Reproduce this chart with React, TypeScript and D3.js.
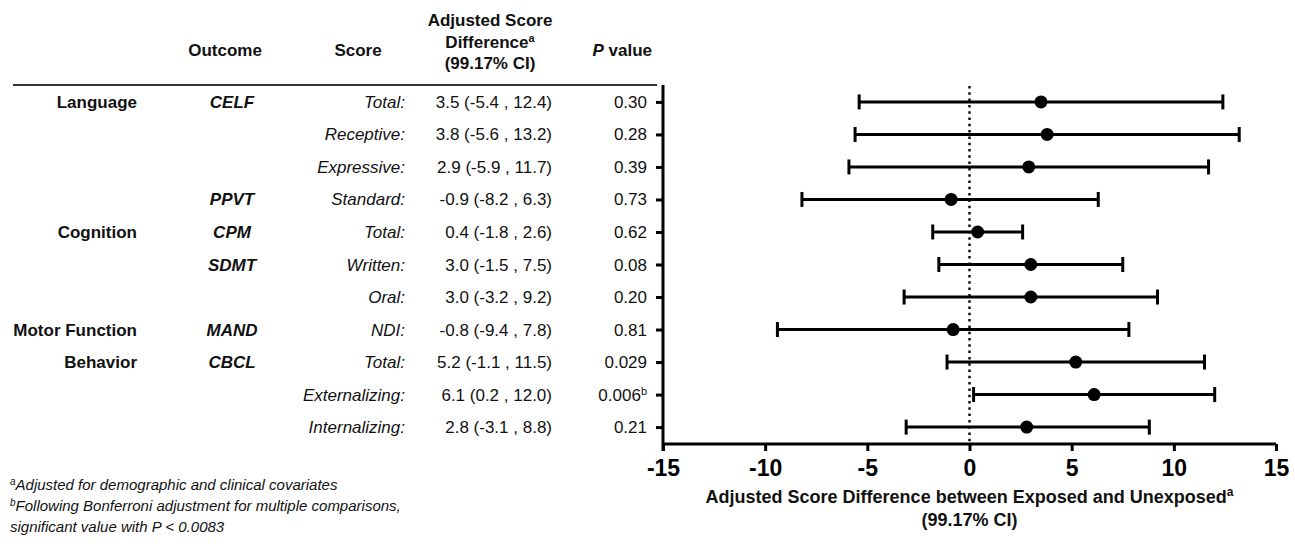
import React, { useRef, useEffect } from 'react'
import { select, scaleLinear, scalePoint, axisBottom, axisLeft } from 'd3'

// table columns, one entry per row (top to bottom)
const domains = ['Language', '', '', '', 'Cognition', '', '', 'Motor Function', 'Behavior', '', '']
const outcomes = ['CELF', '', '', 'PPVT', 'CPM', 'SDMT', '', 'MAND', 'CBCL', '', '']
const scores = ['Total:', 'Receptive:', 'Expressive:', 'Standard:', 'Total:', 'Written:', 'Oral:', 'NDI:', 'Total:', 'Externalizing:', 'Internalizing:']
const estimates = [3.5, 3.8, 2.9, -0.9, 0.4, 3.0, 3.0, -0.8, 5.2, 6.1, 2.8]
const lowers = [-5.4, -5.6, -5.9, -8.2, -1.8, -1.5, -3.2, -9.4, -1.1, 0.2, -3.1]
const uppers = [12.4, 13.2, 11.7, 6.3, 2.6, 7.5, 9.2, 7.8, 11.5, 12.0, 8.8]
const pValues = ['0.30', '0.28', '0.39', '0.73', '0.62', '0.08', '0.20', '0.81', '0.029', '0.006', '0.21']
const pMarks = ['', '', '', '', '', '', '', '', '', 'b', '']
const xTicks = [-15, -10, -5, 0, 5, 10, 15]

const FONT = 'Arial, "Liberation Sans", Helvetica, sans-serif'

const App = () => {
    const svgRef = useRef(null)

    useEffect(() => {
        const svg = select(svgRef.current)
        svg.selectAll('*').remove()

        const x = scaleLinear().domain([-15, 15]).range([663, 1276])
        const rows = scores.map((d, i) => i)
        const y = scalePoint().domain(rows).range([85, 444]).padding(0.52)

        const fmt = v => v.toFixed(1)

        // header
        const head = svg.append('g')
            .style('font-family', FONT)
            .style('font-weight', 'bold')
            .style('font-size', '17px')
            .attr('fill', '#111')
        head.append('text').attr('x', 225).attr('y', 56).attr('text-anchor', 'middle').text('Outcome')
        head.append('text').attr('x', 358).attr('y', 56).attr('text-anchor', 'middle').text('Score')
        head.append('text').attr('x', 490).attr('y', 26).attr('text-anchor', 'middle').text('Adjusted Score')
        const diff = head.append('text').attr('x', 490).attr('y', 48).attr('text-anchor', 'middle')
        diff.append('tspan').text('Difference')
        diff.append('tspan').attr('dy', -6).style('font-size', '11px').text('a')
        head.append('text').attr('x', 490).attr('y', 69).attr('text-anchor', 'middle').text('(99.17% CI)')
        const pv = head.append('text').attr('x', 652).attr('y', 56).attr('text-anchor', 'end')
        pv.append('tspan').style('font-style', 'italic').text('P')
        pv.append('tspan').text(' value')

        svg.append('line')
            .attr('x1', 13).attr('x2', 657)
            .attr('y1', 85).attr('y2', 85)
            .attr('stroke', '#333')
            .attr('stroke-width', 2)

        // table body
        const body = svg.append('g')
            .style('font-family', FONT)
            .style('font-size', '17px')
            .attr('fill', '#111')

        body.selectAll('.dom')
            .data(rows)
            .join('text')
            .attr('class', 'dom')
            .attr('x', 137)
            .attr('y', i => y(i) + 6)
            .attr('text-anchor', 'end')
            .style('font-weight', 'bold')
            .text(i => domains[i])

        body.selectAll('.out')
            .data(rows)
            .join('text')
            .attr('class', 'out')
            .attr('x', 232)
            .attr('y', i => y(i) + 6)
            .attr('text-anchor', 'middle')
            .style('font-weight', 'bold')
            .style('font-style', 'italic')
            .text(i => outcomes[i])

        body.selectAll('.score')
            .data(rows)
            .join('text')
            .attr('class', 'score')
            .attr('x', 405)
            .attr('y', i => y(i) + 6)
            .attr('text-anchor', 'end')
            .style('font-style', 'italic')
            .text(i => scores[i])

        body.selectAll('.ci')
            .data(rows)
            .join('text')
            .attr('class', 'ci')
            .attr('x', 552)
            .attr('y', i => y(i) + 6)
            .attr('text-anchor', 'end')
            .text(i => `${fmt(estimates[i])} (${fmt(lowers[i])} , ${fmt(uppers[i])})`)

        const pText = body.selectAll('.pval')
            .data(rows)
            .join('text')
            .attr('class', 'pval')
            .attr('x', 647)
            .attr('y', i => y(i) + 6)
            .attr('text-anchor', 'end')
        pText.append('tspan').text(i => pValues[i])
        pText.append('tspan')
            .attr('dy', -6)
            .style('font-size', '11px')
            .text(i => pMarks[i])

        // zero reference line
        svg.append('line')
            .attr('x1', x(0)).attr('x2', x(0))
            .attr('y1', 86).attr('y2', 444)
            .attr('stroke', '#111')
            .attr('stroke-width', 2.5)
            .attr('stroke-dasharray', '2.5,3.8')

        // axes
        const xAxis = axisBottom(x)
            .tickValues(xTicks)
            .tickSize(7)
            .tickSizeOuter(0)
            .tickPadding(9)
            .tickFormat(d => String(d))
        const gx = svg.append('g')
            .attr('transform', 'translate(0,444)')
            .call(xAxis)

        const yAxis = axisLeft(y)
            .tickSize(7)
            .tickSizeOuter(0)
            .tickFormat(() => '')
        const gy = svg.append('g')
            .attr('transform', 'translate(663,0)')
            .call(yAxis)

        svg.selectAll('.domain')
            .attr('stroke', '#000')
            .attr('stroke-width', 3)
        svg.selectAll('.tick line')
            .attr('stroke', '#000')
            .attr('stroke-width', 3)
        gy.select('.domain').attr('d', 'M0,85V451')
        gx.select('.domain').attr('d', 'M663,0H1276')
        gx.selectAll('text')
            .style('font-family', FONT)
            .style('font-size', '23px')
            .style('font-weight', 'bold')
            .attr('fill', '#000')

        // error bars
        const bars = svg.append('g')
            .attr('stroke', '#000')
            .attr('stroke-width', 3)
        bars.selectAll('.ebar')
            .data(rows)
            .join('line')
            .attr('class', 'ebar')
            .attr('x1', i => x(lowers[i]))
            .attr('x2', i => x(uppers[i]))
            .attr('y1', i => y(i))
            .attr('y2', i => y(i))
        bars.selectAll('.capL')
            .data(rows)
            .join('line')
            .attr('class', 'capL')
            .attr('x1', i => x(lowers[i]))
            .attr('x2', i => x(lowers[i]))
            .attr('y1', i => y(i) - 7.5)
            .attr('y2', i => y(i) + 7.5)
        bars.selectAll('.capR')
            .data(rows)
            .join('line')
            .attr('class', 'capR')
            .attr('x1', i => x(uppers[i]))
            .attr('x2', i => x(uppers[i]))
            .attr('y1', i => y(i) - 7.5)
            .attr('y2', i => y(i) + 7.5)

        svg.selectAll('.pt')
            .data(rows)
            .join('circle')
            .attr('class', 'pt')
            .attr('cx', i => x(estimates[i]))
            .attr('cy', i => y(i))
            .attr('r', 6.5)
            .attr('fill', '#000')

        // axis title
        const title = svg.append('g')
            .style('font-family', FONT)
            .style('font-weight', 'bold')
            .style('font-size', '18px')
            .attr('fill', '#111')
        const t1 = title.append('text').attr('x', x(0)).attr('y', 503).attr('text-anchor', 'middle')
        t1.append('tspan').text('Adjusted Score Difference between Exposed and Unexposed')
        t1.append('tspan').attr('dy', -7).style('font-size', '12px').text('a')
        title.append('text').attr('x', x(0)).attr('y', 526).attr('text-anchor', 'middle').text('(99.17% CI)')

        // footnotes
        const notes = svg.append('g')
            .style('font-family', FONT)
            .style('font-style', 'italic')
            .style('font-size', '15px')
            .attr('fill', '#111')
        const n1 = notes.append('text').attr('x', 10).attr('y', 490)
        n1.append('tspan').attr('dy', -5).style('font-size', '10px').text('a')
        n1.append('tspan').attr('dy', 5).text('Adjusted for demographic and clinical covariates')
        const n2 = notes.append('text').attr('x', 10).attr('y', 511)
        n2.append('tspan').attr('dy', -5).style('font-size', '10px').text('b')
        n2.append('tspan').attr('dy', 5).text('Following Bonferroni adjustment for multiple comparisons,')
        notes.append('text').attr('x', 10).attr('y', 532).text('significant value with P < 0.0083')
    }, [])

    return (
        <svg
            ref={svgRef}
            width={1295}
            height={544}
            style={{ position: 'absolute', left: 0, top: 0, background: '#fff' }}
        />
    )
}

export default App
